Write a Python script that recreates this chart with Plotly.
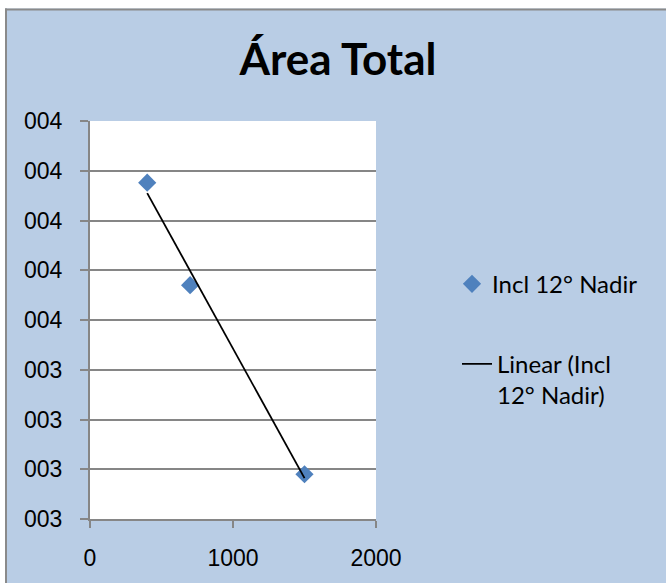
import numpy as np
import plotly.graph_objects as go

# ---- data ----
x_vals = [400, 700, 1500]
y_vals = [3.876, 3.67, 3.29]
series_name = "Incl 12° Nadir"
trend_name = "Linear (Incl<br>12° Nadir)"
y_tickvals = [3.2, 3.3, 3.4, 3.5, 3.6, 3.7, 3.8, 3.9, 4.0]
y_ticktext = ["003", "003", "003", "003", "004", "004", "004", "004", "004"]
x_tickvals = [0, 1000, 2000]
x_ticktext = ["0", "1000", "2000"]
title_text = "Área Total"

# ---- layout geometry ----
W, H = 666, 583
ML, MR, MT, MB = 90, 290, 121, 62
PW, PH = W - ML - MR, H - MT - MB


def px_x(p):
    return (p - ML) / PW


def px_y(p):
    return (H - MB - p) / PH


BG = "#B9CDE5"
GRID = "#868686"
BLUE = "#4F81BD"

# linear trend fitted from the data
slope, icpt = np.polyfit(x_vals, y_vals, 1)
tx = [min(x_vals), max(x_vals)]
ty = [slope * v + icpt for v in tx]

fig = go.Figure()
fig.add_trace(go.Scatter(
    x=x_vals, y=y_vals, mode="markers", name=series_name,
    marker=dict(symbol="diamond", size=14, color=BLUE, line=dict(width=0)),
    legend="legend",
))
fig.add_trace(go.Scatter(
    x=tx, y=ty, mode="lines", name=trend_name,
    line=dict(color="black", width=1.8),
    legend="legend2",
))

shapes = [
    # white strips outside the chart frame
    dict(type="rect", xref="paper", yref="paper", x0=px_x(-5), x1=px_x(5),
         y0=px_y(H + 5), y1=px_y(-5), fillcolor="white", line=dict(width=0)),
    dict(type="rect", xref="paper", yref="paper", x0=px_x(-5), x1=px_x(W + 5),
         y0=px_y(8), y1=px_y(-5), fillcolor="white", line=dict(width=0)),
    # frame border (left + top)
    dict(type="line", xref="paper", yref="paper", x0=px_x(6), x1=px_x(6),
         y0=px_y(8), y1=px_y(H + 5), line=dict(color="#8A8A8A", width=2)),
    dict(type="line", xref="paper", yref="paper", x0=px_x(5), x1=px_x(W + 5),
         y0=px_y(9), y1=px_y(9), line=dict(color="#8A8A8A", width=2)),
]

tick_font = dict(family="Liberation Sans, Arial, sans-serif", size=23, color="black")
legend_font = dict(family="Lato, Calibri, sans-serif", size=24, color="black")

fig.update_layout(
    width=W, height=H, autosize=False,
    margin=dict(l=ML, r=MR, t=MT, b=MB, pad=0),
    paper_bgcolor=BG, plot_bgcolor="white",
    title=dict(text="<b>" + title_text + "</b>", x=338 / W, xref="container",
               xanchor="center", y=1 - 60 / H, yref="container", yanchor="middle",
               font=dict(family="Lato, Calibri, sans-serif", size=44, color="black")),
    xaxis=dict(range=[0, 2000], tickvals=x_tickvals, ticktext=x_ticktext,
               showgrid=False, zeroline=False, showline=True, linecolor=GRID,
               linewidth=2, ticks="outside", ticklen=7, tickwidth=2,
               tickcolor=GRID, tickfont=tick_font, ticklabelstandoff=10),
    yaxis=dict(range=[3.2, 4.0], tickvals=y_tickvals, ticktext=y_ticktext,
               showgrid=True, gridcolor=GRID, gridwidth=2, zeroline=False,
               showline=True, linecolor=GRID, linewidth=2, ticks="outside",
               ticklen=8, tickwidth=2, tickcolor=GRID, tickfont=tick_font,
               ticklabelstandoff=13),
    legend=dict(x=px_x(452), xanchor="left", y=px_y(285), yanchor="middle",
                bgcolor="rgba(0,0,0,0)", font=legend_font),
    legend2=dict(x=px_x(457), xanchor="left", y=px_y(381), yanchor="middle",
                 bgcolor="rgba(0,0,0,0)", font=legend_font, valign="top"),
    showlegend=True,
    shapes=shapes,
)

fig.write_html("out.html",
               config={"displayModeBar": False},
               post_script="document.body.style.margin='0';"
                           "document.body.style.overflow='hidden';")
